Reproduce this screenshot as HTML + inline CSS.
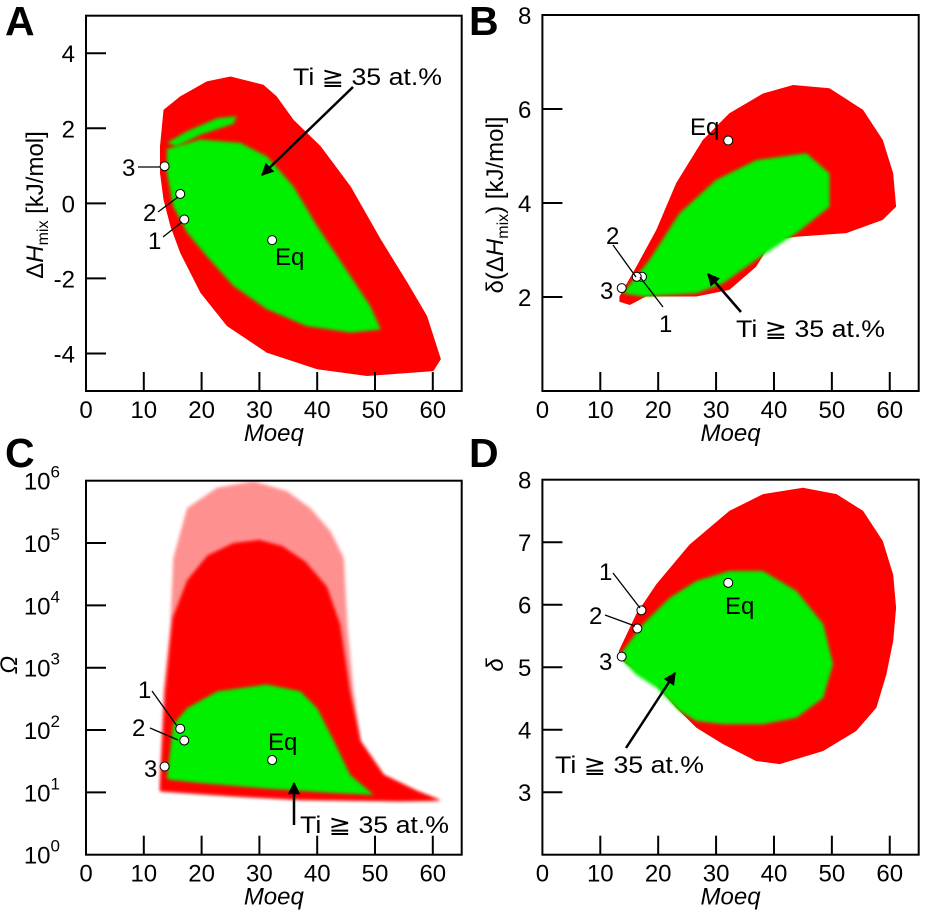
<!DOCTYPE html>
<html><head><meta charset="utf-8"><style>
html,body{margin:0;padding:0;background:#fff}
svg{display:block}
text{font-family:"Liberation Sans",sans-serif;fill:#000}
</style></head><body>
<svg id="fig" width="926" height="917" viewBox="0 0 926 917" xmlns="http://www.w3.org/2000/svg">
<defs><filter id="soft" x="-5%" y="-5%" width="110%" height="110%"><feGaussianBlur stdDeviation="1.6"/></filter></defs>
</svg>
<script>
// ---- Data (Moeq, value) ----
const xTicks=[0,10,20,30,40,50,60];
// Panel A: dHmix
const aRedX=[12.8,13.4,16.3,20.9,25.0,30.7,33.0,35.9,40.6,45.8,51.0,55.6,59.0,61.4,60.1,48.6,40.0,31.3,24.4,19.8,16.3,14.6,13.4,12.8];
const aRedY=[1.52,2.49,2.85,3.25,3.38,3.16,2.85,2.23,1.52,0.45,-0.96,-2.11,-3.0,-4.15,-4.47,-4.6,-4.42,-3.98,-3.27,-2.38,-1.32,-0.61,0.10,0.81];
const aGreenX=[14.0,19.8,26.7,31.3,35.9,40.0,44.6,49.2,51.0,45.8,38.2,31.3,25.5,20.9,17.5,15.1,14.0];
const aGreenY=[1.45,1.70,1.61,1.25,0.45,-0.61,-1.67,-2.74,-3.36,-3.44,-3.27,-2.82,-2.20,-1.41,-0.78,-0.08,0.81];
const aBandX=[14.0,17.5,22.7,26.1,25.5,19.8,15.7];
const aBandY=[1.61,1.92,2.27,2.32,2.12,1.83,1.52];
const aYTicks=[4,2,0,-2,-4];
// Panel B: delta(dHmix)
const bRedX=[13.3,16.2,19.7,23.1,27.7,32.3,38.1,43.3,49.6,55.4,58.8,60.6,61.1,58.8,52.5,43.9,39.8,36.9,32.3,26.6,17.9,15.1,13.3];
const bRedY=[2.01,2.64,3.43,4.42,5.34,5.91,6.33,6.51,6.44,5.98,5.34,4.63,3.92,3.64,3.36,3.28,3.21,2.64,2.15,2.01,2.01,1.83,1.90];
const bGreenX=[13.9,18.5,23.7,30.0,36.9,45.6,49.6,49.6,43.9,36.9,31.2,26.6,17.4];
const bGreenY=[2.08,2.79,3.78,4.49,4.91,5.06,4.63,3.92,3.36,2.79,2.29,2.08,2.01];
const bYTicks=[2,4,6,8];
// Panel C: Omega (log10 values)
const cSparseX=[12.8,13.4,14.6,15.1,17.5,22.7,29.0,34.8,38.8,42.3,44.6,45.2,46.3,47.5,51.5,57.3,61.4,54.4,37.1,25.5,12.8];
const cSparseY=[1.23,2.62,3.69,4.76,5.56,5.89,5.99,5.83,5.56,5.19,4.76,3.69,2.62,1.82,1.28,1.02,0.87,0.86,0.88,0.94,1.02];
const cRedX=[12.9,13.7,15.0,17.5,21.0,25.5,30.0,34.0,38.0,41.7,44.0,45.7,47.5,51.5,57.3,61.4,54.4,37.1,25.5,12.8];
const cRedY=[1.23,2.62,3.80,4.40,4.80,5.00,5.05,4.95,4.70,4.30,3.69,2.62,1.82,1.28,1.02,0.87,0.86,0.88,0.94,1.02];
const cGreenX=[14.0,15.1,17.5,22.7,31.3,37.1,40.0,42.9,45.7,49.8,42.9,31.3,19.8,14.6];
const cGreenY=[1.23,2.09,2.35,2.62,2.73,2.62,2.35,1.82,1.28,0.96,0.99,1.06,1.15,1.20];
const cYTicks=[0,1,2,3,4,5,6];
// Panel D: delta
const dRedX=[13.2,16.2,19.7,25.4,32.3,38.1,45.0,50.8,55.4,58.8,60.6,61.1,60.6,59.4,57.7,54.2,48.5,41.0,36.9,31.2,26.6,23.1,19.1,16.2,13.4];
const dRedY=[5.26,5.85,6.33,6.96,7.50,7.77,7.87,7.77,7.50,7.02,6.48,5.95,5.42,4.88,4.35,3.98,3.66,3.45,3.50,3.77,4.03,4.35,4.78,4.94,5.13];
const dGreenX=[13.4,17.4,22.0,26.6,32.3,38.1,43.9,48.5,50.2,48.5,43.9,38.1,31.2,26.6,23.7,19.7,16.2,13.9];
const dGreenY=[5.20,5.69,6.11,6.38,6.54,6.54,6.22,5.69,5.05,4.51,4.19,4.09,4.09,4.14,4.30,4.67,4.88,5.10];
const dYTicks=[3,4,5,6,7,8];
// markers: 1,2,3,Eq
const aMX=[17.0,16.3,13.6,32.2], aMY=[-0.43,0.25,0.99,-0.98];
const bMX=[17.2,16.3,13.7,32.1], bMY=[2.43,2.43,2.19,5.33];
const cMX=[16.3,17.0,13.6,32.2], cMY=[105,68,26,33];
const dMX=[17.1,16.4,13.7,32.1], dMY=[5.91,5.62,5.17,6.35];

const NS="http://www.w3.org/2000/svg";
const svg=document.getElementById('fig');
function mk(tag,attrs,parent){const e=document.createElementNS(NS,tag);for(const k in attrs)e.setAttribute(k,attrs[k]);(parent||svg).appendChild(e);return e;}

function panel(id,ax,log,yTicks,clouds,mx,my){
  const g=mk('g',{});
  
  
  const sx=v=>ax.x0+(v-ax.xmin)/(ax.xmax-ax.xmin)*(ax.x1-ax.x0);
  const sy=v=>{const t=log?Math.log10(v):v;return ax.y0-(t-ax.ymin)/(ax.ymax-ax.ymin)*(ax.y0-ax.y1);};
  const syl=v=>ax.y0-(v-ax.ymin)/(ax.ymax-ax.ymin)*(ax.y0-ax.y1);
  const cp=mk('clipPath',{id:'clip'+id},g);
  mk('rect',{x:ax.x0,y:ax.y1,width:ax.x1-ax.x0,height:ax.y0-ax.y1},cp);
  const cg=mk('g',{'clip-path':'url(#clip'+id+')'},g);
  clouds.forEach(c=>{
    const pts=c.xs.map((x,i)=>sx(x).toFixed(1)+','+(log?syl(c.ys[i]):sy(c.ys[i])).toFixed(1)).join(' ');
    const p=mk('polygon',{points:pts,fill:c.fill,'fill-opacity':c.op||1},cg);
    if(c.blur)p.setAttribute('filter','url(#soft)');
    
    
  });
  const fr=mk('rect',{x:ax.x0,y:ax.y1,width:ax.x1-ax.x0,height:ax.y0-ax.y1,fill:'none',stroke:'#000','stroke-width':2},g);
  
  
  xTicks.forEach(v=>{
    const x=sx(v);
    if(v>0){const t=mk('line',{x1:x,x2:x,y1:ax.y0,y2:ax.y0-19,stroke:'#000','stroke-width':2},g);
      
      }
    const l=mk('text',{x:x,y:ax.y0+27,'text-anchor':'middle','font-size':24},g);l.textContent=v;
    
    
  });
  yTicks.forEach(v=>{
    const y=log?syl(v):sy(v);
    if(y<ax.y0-1&&y>ax.y1+1){const t=mk('line',{x1:ax.x0,x2:ax.x0+20,y1:y,y2:y,stroke:'#000','stroke-width':2},g);
      
      }
    const l=mk('text',{x:ax.x0-11,y:y+9,'text-anchor':'end','font-size':24},g);
    if(log){l.setAttribute('x',ax.x0-26);l.textContent='10';const s=mk('tspan',{dy:-12,'font-size':17},l);s.textContent=v;}
    else l.textContent=v;
    
    
  });
  const xt=mk('text',{x:(ax.x0+ax.x1)/2,y:ax.y0+50,'text-anchor':'middle','font-size':24,'font-style':'italic'},g);
  xt.textContent='Moeq';
  
  
  const names=['marker-1','marker-2','marker-3','marker-eq'];
  mx.forEach((v,i)=>{
    const c=mk('circle',{cx:sx(v),cy:sy(my[i]),r:4.5,fill:'#fff',stroke:'#000','stroke-width':1},g);
    
    
  });
  return g;
}
panel('A',{x0:86,x1:461.7,xmin:0,xmax:65,y0:391,y1:15.7,ymin:-5,ymax:5},false,aYTicks,[
 {xs:aRedX,ys:aRedY,fill:'#ff0000',name:'all-alloys-cloud'},
 {xs:aGreenX,ys:aGreenY,fill:'#00f000',blur:1,name:'ti35-cloud'},
 {xs:aBandX,ys:aBandY,fill:'#00f000',blur:1,name:'ti35-cloud-band'}],aMX,aMY);
panel('B',{x0:542.4,x1:918.7,xmin:0,xmax:65,y0:391,y1:15,ymin:0,ymax:8},false,bYTicks,[
 {xs:bRedX,ys:bRedY,fill:'#ff0000',name:'all-alloys-cloud'},
 {xs:bGreenX,ys:bGreenY,fill:'#00f000',blur:1,name:'ti35-cloud'}],bMX,bMY);
panel('C',{x0:86,x1:461.7,xmin:0,xmax:65,y0:854.7,y1:480.7,ymin:0,ymax:6},true,cYTicks,[
 {xs:cSparseX,ys:cSparseY,fill:'#ff2020',op:0.5,blur:1,name:'all-alloys-sparse'},
 {xs:cRedX,ys:cRedY,fill:'#ff0000',blur:1,name:'all-alloys-cloud'},
 {xs:cGreenX,ys:cGreenY,fill:'#00f000',blur:1,name:'ti35-cloud'}],cMX,cMY);
panel('D',{x0:542.4,x1:918.7,xmin:0,xmax:65,y0:854.7,y1:479.7,ymin:2,ymax:8},false,dYTicks,[
 {xs:dRedX,ys:dRedY,fill:'#ff0000',name:'all-alloys-cloud'},
 {xs:dGreenX,ys:dGreenY,fill:'#00f000',blur:1,name:'ti35-cloud'}],dMX,dMY);
</script>
<svg style="position:absolute;left:0;top:0" width="926" height="917">
<defs><marker id="ah2" viewBox="0 0 10 10" refX="9" refY="5" markerWidth="5" markerHeight="5" orient="auto"><path d="M0,0L10,5L0,10z" fill="#000"/></marker></defs>
<g font-family="Liberation Sans, sans-serif" font-size="24" stroke-width="1.3">
<text x="5" y="35" font-size="41" font-weight="bold">A</text>
<text x="469" y="35" font-size="41" font-weight="bold">B</text>
<text x="5" y="467" font-size="41" font-weight="bold">C</text>
<text x="469" y="467" font-size="41" font-weight="bold">D</text>
<text transform="translate(43,205) rotate(-90)" text-anchor="middle">Δ<tspan font-style="italic">H</tspan><tspan font-size="16" dy="5">mix</tspan><tspan dy="-5"> [kJ/mol]</tspan></text>
<text transform="translate(503,205) rotate(-90)" text-anchor="middle">δ(Δ<tspan font-style="italic">H</tspan><tspan font-size="16" dy="5">mix</tspan><tspan dy="-5">) [kJ/mol]</tspan></text>
<text transform="translate(17,665) rotate(-90)" text-anchor="middle" font-style="italic">Ω</text>
<text transform="translate(503,665) rotate(-90)" text-anchor="middle" font-style="italic">δ</text>
<!-- A annotations -->
<text x="122" y="176">3</text>
<line x1="138" y1="167" x2="160" y2="167" stroke="#000"/>
<text x="143" y="221">2</text>
<line x1="158" y1="212" x2="178" y2="197" stroke="#000"/>
<text x="148" y="249">1</text>
<line x1="163" y1="237" x2="182" y2="222" stroke="#000"/>
<text x="275" y="265">Eq</text>
<text x="293" y="85" textLength="149" lengthAdjust="spacingAndGlyphs">Ti ≧ 35 at.%</text>
<line x1="353" y1="87" x2="262" y2="175" stroke="#000" stroke-width="2.5" marker-end="url(#ah2)"/>
<!-- B annotations -->
<text x="600" y="299">3</text>
<text x="606" y="244">2</text>
<line x1="613" y1="245" x2="636" y2="277" stroke="#000"/>
<text x="659" y="332">1</text>
<line x1="663" y1="307" x2="640" y2="277" stroke="#000"/>
<text x="690" y="135">Eq</text>
<text x="736" y="337" textLength="149" lengthAdjust="spacingAndGlyphs">Ti ≧ 35 at.%</text>
<line x1="741" y1="312" x2="708" y2="274" stroke="#000" stroke-width="2.5" marker-end="url(#ah2)"/>
<!-- C annotations -->
<text x="138" y="698">1</text>
<line x1="152" y1="691" x2="177" y2="726" stroke="#000"/>
<text x="132" y="736">2</text>
<line x1="150" y1="728" x2="178" y2="740" stroke="#000"/>
<text x="144" y="777">3</text>
<text x="268" y="750">Eq</text>
<text x="300" y="833" textLength="149" lengthAdjust="spacingAndGlyphs">Ti ≧ 35 at.%</text>
<line x1="294" y1="825" x2="294" y2="783" stroke="#000" stroke-width="2.5" marker-end="url(#ah2)"/>
<!-- D annotations -->
<text x="599" y="580">1</text>
<line x1="613" y1="573" x2="640" y2="608" stroke="#000"/>
<text x="589" y="624">2</text>
<line x1="605" y1="615" x2="635" y2="626" stroke="#000"/>
<text x="599" y="670">3</text>
<text x="725" y="614">Eq</text>
<text x="555" y="773" textLength="149" lengthAdjust="spacingAndGlyphs">Ti ≧ 35 at.%</text>
<line x1="626" y1="748" x2="675" y2="673" stroke="#000" stroke-width="2.5" marker-end="url(#ah2)"/>
</g>
</svg>
</body></html>
